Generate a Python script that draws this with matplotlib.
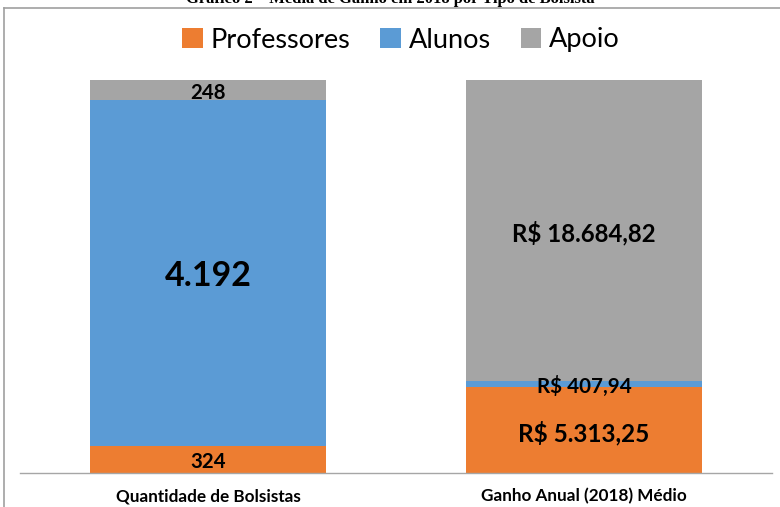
import matplotlib
matplotlib.use("Agg")
import matplotlib.pyplot as plt
from matplotlib.patches import Patch
from matplotlib.lines import Line2D
from matplotlib.transforms import offset_copy

categories = ["Quantidade de Bolsistas", "Ganho Anual (2018) Médio"]
series_names = ["Professores", "Alunos", "Apoio"]
professores = [324, 5313.25]
alunos = [4192, 407.94]
apoio = [248, 18684.82]
labels_prof = ["324", "R$ 5.313,25"]
labels_alunos = ["4.192", "R$ 407,94"]
labels_apoio = ["248", "R$ 18.684,82"]
colors = ["#ED7D31", "#5B9BD5", "#A5A5A5"]

FONT = "Lato"

fig = plt.figure(figsize=(7.8, 5.07), dpi=100)
W, H = 780, 507
ax = fig.add_axes([20 / W, 1 - 473 / H, 752 / W, (473 - 80) / H])

series = [professores, alunos, apoio]
labels = [labels_prof, labels_alunos, labels_apoio]
totals = [sum(s[i] for s in series) for i in range(len(categories))]
x = list(range(len(categories)))
bottoms = [0.0] * len(categories)
label_sizes = [[14.7, 17.5], [24.5, 14.9], [14.7, 17.3]]
shifted = offset_copy(ax.transData, fig=fig, x=0, y=-2.5, units="dots")
for si, (vals, col) in enumerate(zip(series, colors)):
    fr = [v / t for v, t in zip(vals, totals)]
    ax.bar(x, fr, width=0.63, bottom=bottoms, color=col, zorder=2)
    for i in range(len(categories)):
        yc = bottoms[i] + fr[i] / 2
        ax.text(x[i], yc, labels[si][i], ha="center", va="center",
                fontsize=label_sizes[si][i], fontweight="bold",
                family=FONT, color="black", zorder=3, transform=shifted)
    bottoms = [b + f for b, f in zip(bottoms, fr)]

ax.set_xlim(-0.5, 1.5)
ax.set_ylim(0, 1)
for s in ["top", "right", "left"]:
    ax.spines[s].set_visible(False)
ax.spines["bottom"].set_color("#A6A6A6")
ax.spines["bottom"].set_linewidth(1.0)
ax.set_yticks([])
ax.set_xticks(x)
ax.set_xticklabels(categories, fontsize=12.3, fontweight="bold", family=FONT)
ax.tick_params(axis="x", length=0, pad=11)

# legend
handles = [Patch(facecolor=c, edgecolor="none") for c in colors]
fig.legend(handles, series_names, loc="center", bbox_to_anchor=(0.5 + 11 / W, 1 - 40 / H),
           ncol=3, frameon=False, prop={"family": FONT, "size": 19.5},
           handlelength=0.75, handleheight=0.75, handletextpad=0.3, columnspacing=1.1)

# title (clipped at top, as in the reference)
fig.text(0.5, 1 - 3 / H, "Gráfico 2 – Média de Ganho em 2018 por Tipo de Bolsista",
         ha="center", va="baseline", fontsize=12, fontweight="bold",
         family="Liberation Serif")

# frame lines
fig.add_artist(Line2D([4 / W, 1], [1 - 8 / H, 1 - 8 / H], color="#A0A0A0", lw=1.2))
fig.add_artist(Line2D([4 / W, 4 / W], [0, 1 - 8 / H], color="#A0A0A0", lw=1.2))

fig.savefig("out.png", dpi=100)
